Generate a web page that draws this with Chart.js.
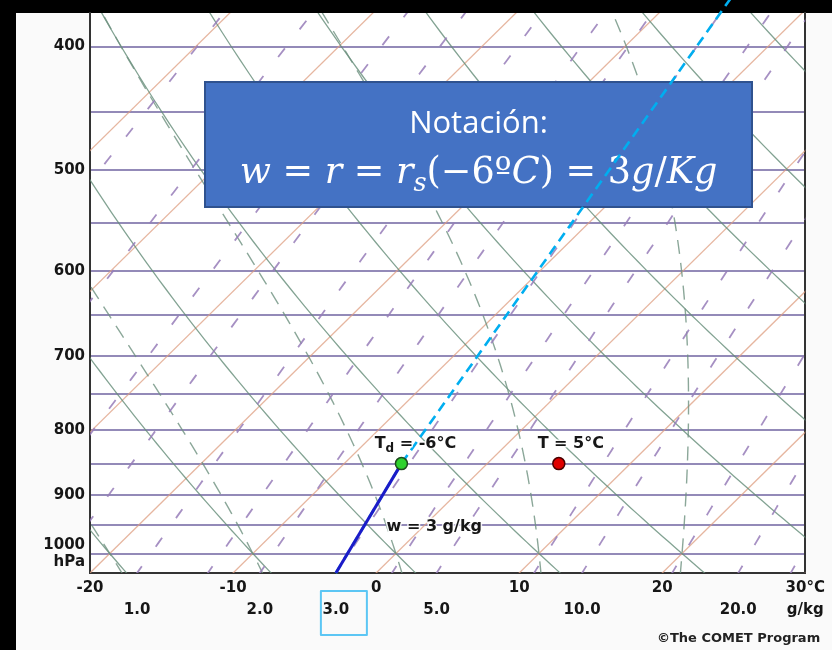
<!DOCTYPE html>
<html>
<head>
<meta charset="utf-8">
<script src="https://cdn.jsdelivr.net/npm/chart.js@4/dist/chart.umd.min.js"></script>
<style>
  html, body { margin: 0; padding: 0; background: #000; overflow: hidden; }
  canvas { display: block; }
</style>
</head>
<body>
<canvas id="skewt" width="832" height="650"></canvas>
<script>
// ---- diagram values ----
const isobars = [400, 450, 500, 550, 600, 650, 700, 750, 800, 850, 900, 950, 1000];   // hPa
const pressureLabels = [400, 500, 600, 700, 800, 900, 1000];
const temperatureTicks = [-20, -10, 0, 10, 20, 30];                                     // °C at the base
const mixingRatioTicks = [1, 2, 3, 5, 10, 20];                                          // g/kg at the base
const isotherms = [-60, -50, -40, -30, -20, -10, 0, 10, 20, 30];                        // °C
const dryAdiabats = [-20, -10, 0, 10, 20, 30, 40, 50, 60, 70, 80];                      // θ, °C
const moistAdiabats = [-20, -10, 0, 10, 20, 30];                                        // θw, °C
const mixingRatioLines = [0.1, 0.2, 0.4, 0.6, 1, 1.5, 2, 3, 4, 5, 8, 10, 15, 20, 25];   // g/kg

// the air parcel at 850 hPa
const parcelPressure = 850;
const parcelTemp = 5;
const parcelDewpoint = -6;
const parcelMixingRatio = 3;
const guideTopPressure = 367;

// ---- diagram geometry (skew-T / log-p) ----
const P_BOTTOM = 1035.8, P_TOP = 376.5;
const SKEW = 39.3;          // °C of horizontal shift per e-fold of pressure
const FONT = '"DejaVu Sans", sans-serif';

const sampleLevels = [];
for (let p = 1040; p >= 360; p -= 10) sampleLevels.push(p);

function skewX(tC, p) { return tC + SKEW * Math.log(P_BOTTOM / p); }
function satVapour(tC) { return 6.112 * Math.exp(17.67 * tC / (tC + 243.5)); }
function dewpointForMixing(w, p) {
  const e = w * p / (622 + w);
  const x = Math.log(e / 6.112);
  return 243.5 * x / (17.67 - x);
}
function dryAdiabatPath(thetaC) {
  const th = thetaC + 273.15;
  return sampleLevels.map(p => ({ x: skewX(th * Math.pow(p / 1000, 0.2857) - 273.15, p), y: p }));
}
function mixingPath(w) {
  return sampleLevels.map(p => ({ x: skewX(dewpointForMixing(w, p), p), y: p }));
}
function isothermPath(tC) {
  return [{ x: skewX(tC, 1040), y: 1040 }, { x: skewX(tC, 360), y: 360 }];
}
// pseudo-adiabatic lapse rate dT/dp (K/hPa)
function moistLapse(p, tK) {
  const es = satVapour(tK - 273.15);
  const rs = 0.622 * es / (p - es);
  const Lv = 2.501e6, Rd = 287.04, Cp = 1005.7;
  return (Rd * tK + Lv * rs) / (Cp + Lv * Lv * rs * 0.622 / (Rd * tK * tK)) / p;
}
function rk4(p, t, h) {
  const k1 = moistLapse(p, t);
  const k2 = moistLapse(p + h / 2, t + h * k1 / 2);
  const k3 = moistLapse(p + h / 2, t + h * k2 / 2);
  const k4 = moistLapse(p + h, t + h * k3);
  return t + h * (k1 + 2 * k2 + 2 * k3 + k4) / 6;
}
function moistAdiabatPath(thetaWC) {
  const temps = { 1000: thetaWC + 273.15 };
  let p = 1000, t = thetaWC + 273.15;
  while (p < 1040) { t = rk4(p, t, 5); p += 5; temps[p] = t; }
  p = 1000; t = thetaWC + 273.15;
  while (p > 360) { t = rk4(p, t, -5); p -= 5; temps[p] = t; }
  return sampleLevels.map(lv => ({ x: skewX(temps[lv] - 273.15, lv), y: lv }));
}

// ---- datasets ----
const datasets = [];
function line(data, style, order) {
  datasets.push(Object.assign({
    data, showLine: true, pointRadius: 0, fill: false, tension: 0,
    xAxisID: 'x', yAxisID: 'y', order
  }, style));
}

// background reference lines (drawn first)
isotherms.forEach(t => line(isothermPath(t), { borderColor: 'rgba(222,158,128,0.75)', borderWidth: 1.3 }, 20));
dryAdiabats.forEach(t => line(dryAdiabatPath(t), { borderColor: 'rgba(100,140,120,0.8)', borderWidth: 1.3 }, 19));
moistAdiabats.forEach(t => line(moistAdiabatPath(t), { borderColor: 'rgba(110,145,128,0.8)', borderWidth: 1.4, borderDash: [14, 9] }, 18));
mixingRatioLines.forEach(w => line(mixingPath(w), { borderColor: 'rgba(150,125,185,0.85)', borderWidth: 1.8, borderDash: [11, 24] }, 17));

// the parcel's mixing-ratio guide
const baseDew = { x: dewpointForMixing(parcelMixingRatio, P_BOTTOM), y: P_BOTTOM };
const dewPoint = { x: skewX(parcelDewpoint, parcelPressure), y: parcelPressure };
const guideTop = { x: skewX(dewpointForMixing(parcelMixingRatio, guideTopPressure), guideTopPressure), y: guideTopPressure };

line([baseDew, dewPoint, guideTop], { role: 'guide', borderColor: '#00aef0', borderWidth: 2.6, borderDash: [10, 6], clip: false }, 3);
line([baseDew, dewPoint], { borderColor: '#1b1bc8', borderWidth: 3 }, 2);

datasets.push({
  data: [dewPoint], showLine: false, xAxisID: 'x', yAxisID: 'y', order: 1,
  pointRadius: 6, pointBackgroundColor: '#2ed12e', pointBorderColor: '#1d4a1d', pointBorderWidth: 1.5
});
datasets.push({
  data: [{ x: skewX(parcelTemp, parcelPressure), y: parcelPressure }], showLine: false,
  xAxisID: 'x', yAxisID: 'y', order: 0,
  pointRadius: 6, pointBackgroundColor: '#e00000', pointBorderColor: '#4a0000', pointBorderWidth: 1.5
});

// ---- overlays ----
function drawNoteBox(ctx) {
  ctx.save();
  ctx.fillStyle = '#4472C4';
  ctx.fillRect(205, 82, 547, 125);
  ctx.strokeStyle = '#2F528F';
  ctx.lineWidth = 2;
  ctx.strokeRect(205, 82, 547, 125);
  ctx.fillStyle = '#ffffff';
  ctx.textAlign = 'center';
  ctx.textBaseline = 'alphabetic';
  ctx.font = '31px "Open Sans", sans-serif';
  ctx.fillText('Notación:', 478.5, 133);

  // w = r = r_s(−6ºC) = 3g/Kg
  const pieces = [
    ['w', 'i'], [' = ', 'n'], ['r', 'i'], [' = ', 'n'], ['r', 'i'], ['s', 'sub'],
    ['(−6º', 'n'], ['C', 'i'], [') = 3', 'n'], ['g', 'i'], ['/', 'n'], ['K', 'i'], ['g', 'i']
  ];
  const fontFor = (kind, s) => kind === 'n' ? `${s}px "DejaVu Serif", serif`
    : kind === 'i' ? `italic ${s}px "DejaVu Serif", serif`
    : `italic ${s * 0.7}px "DejaVu Serif", serif`;
  const measure = s => pieces.reduce((acc, [txt, k]) => { ctx.font = fontFor(k, s); return acc + ctx.measureText(txt).width; }, 0);
  let size = 32;
  size = size * 478 / measure(size);
  let x = 478.5 - measure(size) / 2;
  ctx.textAlign = 'left';
  pieces.forEach(([txt, k]) => {
    ctx.font = fontFor(k, size);
    ctx.fillText(txt, x, k === 'sub' ? 183 + size * 0.22 : 183);
    x += ctx.measureText(txt).width;
  });
  ctx.restore();
}

function haloText(ctx, txt, x, y) {
  ctx.strokeText(txt, x, y);
  ctx.fillText(txt, x, y);
}

const overlayPlugin = {
  id: 'overlay',
  beforeDraw(chart) {
    const { ctx, chartArea: a } = chart;
    ctx.save();
    ctx.fillStyle = '#000';
    ctx.fillRect(0, 0, chart.width, chart.height);
    ctx.fillStyle = '#fafafa';
    ctx.fillRect(16, 13, chart.width - 16, chart.height - 13);
    ctx.fillStyle = '#ffffff';
    ctx.fillRect(a.left, a.top, a.right - a.left, a.bottom - a.top);
    ctx.restore();
  },
  beforeDatasetDraw(chart, args) {
    if (chart.data.datasets[args.index].role === 'guide') drawNoteBox(chart.ctx);
  },
  afterDraw(chart) {
    const { ctx } = chart;
    const xs = chart.scales.x, ys = chart.scales.y, x2 = chart.scales.x2;
    ctx.save();
    ctx.fillStyle = '#161616';
    ctx.strokeStyle = 'rgba(255,255,255,0.85)';
    ctx.lineWidth = 3;
    ctx.lineJoin = 'round';
    ctx.textBaseline = 'middle';

    // dewpoint label with subscript
    const dx = xs.getPixelForValue(dewPoint.x), dy = ys.getPixelForValue(parcelPressure);
    ctx.font = `bold 16px ${FONT}`;
    const wT = ctx.measureText('T').width;
    const rest = ' = -6°C';
    const wRest = ctx.measureText(rest).width;
    ctx.font = `bold 12px ${FONT}`;
    const wD = ctx.measureText('d').width;
    let lx = dx + 14 - (wT + wD + wRest) / 2;
    const ly = dy - 20;
    ctx.textAlign = 'left';
    ctx.font = `bold 16px ${FONT}`;
    haloText(ctx, 'T', lx, ly);
    ctx.font = `bold 12px ${FONT}`;
    haloText(ctx, 'd', lx + wT, ly + 5);
    ctx.font = `bold 16px ${FONT}`;
    haloText(ctx, rest, lx + wT + wD, ly);

    // temperature label
    const tx = xs.getPixelForValue(skewX(parcelTemp, parcelPressure));
    ctx.textAlign = 'center';
    haloText(ctx, 'T = 5°C', tx + 12, ly);

    // mixing ratio label beside the line
    const p950 = 950;
    const f = Math.log(P_BOTTOM / p950) / Math.log(P_BOTTOM / parcelPressure);
    const lineX = xs.getPixelForValue(baseDew.x + f * (dewPoint.x - baseDew.x));
    ctx.textAlign = 'left';
    haloText(ctx, 'w = 3 g/kg', lineX + 22, ys.getPixelForValue(p950) + 2);

    // highlight around the 3.0 g/kg base label
    const hx = x2.getPixelForValue(baseDew.x);
    ctx.strokeStyle = '#5cc6f4';
    ctx.lineWidth = 2;
    ctx.strokeRect(hx - 15, 591, 46, 44);

    ctx.fillStyle = '#222';
    ctx.font = `bold 13px ${FONT}`;
    ctx.textAlign = 'left';
    ctx.fillText('©The COMET Program', 657, 639);
    ctx.restore();
  }
};

// ---- chart ----
const tickFont = { family: FONT, size: 15, weight: 'bold', lineHeight: 1.1 };
const mixTickValues = mixingRatioTicks.map(w => dewpointForMixing(w, P_BOTTOM)).concat([30]);
const mixTickLabels = mixingRatioTicks.map(w => w.toFixed(1)).concat(['g/kg']);

new Chart(document.getElementById('skewt'), {
  type: 'scatter',
  data: { datasets },
  plugins: [overlayPlugin],
  options: {
    responsive: false,
    animation: false,
    devicePixelRatio: 1,
    layout: { padding: { left: 0, top: 13, right: 24, bottom: 33 } },
    plugins: { legend: { display: false }, tooltip: { enabled: false } },
    scales: {
      x: {
        type: 'linear', position: 'bottom', min: -20, max: 30, bounds: 'data', weight: 0,
        afterBuildTicks: s => { s.ticks = temperatureTicks.map(v => ({ value: v })); },
        afterFit: s => { s.height = 22; },
        grid: { display: false, drawTicks: false },
        border: { display: true, color: '#333', width: 2 },
        ticks: {
          autoSkip: false, maxRotation: 0, padding: 7, color: '#161616', font: tickFont,
          callback: v => (v === 30 ? '30°C' : String(v))
        }
      },
      x2: {
        type: 'linear', position: 'bottom', min: -20, max: 30, bounds: 'data', weight: 1,
        afterBuildTicks: s => { s.ticks = mixTickValues.map(v => ({ value: v })); },
        afterFit: s => { s.height = 22; },
        grid: { display: false, drawTicks: false },
        border: { display: false },
        ticks: {
          autoSkip: false, maxRotation: 0, padding: 7, color: '#161616', font: tickFont,
          callback: (v, i) => mixTickLabels[i]
        }
      },
      y: {
        type: 'logarithmic', position: 'left', reverse: true, min: P_TOP, max: P_BOTTOM, bounds: 'data',
        afterBuildTicks: s => { s.ticks = isobars.slice().reverse().map(v => ({ value: v })); },
        afterFit: s => { s.width = 90; s.paddingTop = 0; s.paddingBottom = 0; },
        grid: { color: 'rgba(128,118,172,0.85)', lineWidth: 2, drawTicks: false },
        border: { display: true, color: '#333', width: 2 },
        ticks: {
          autoSkip: false, padding: 5, color: '#161616', font: tickFont,
          callback: v => (v === 1000 ? ['1000', 'hPa'] : (pressureLabels.includes(v) ? String(v) : ''))
        }
      },
      y2: {
        type: 'logarithmic', position: 'right', reverse: true, min: P_TOP, max: P_BOTTOM, bounds: 'data',
        afterFit: s => { s.width = 0; s.paddingTop = 0; s.paddingBottom = 0; },
        grid: { display: false, drawTicks: false },
        border: { display: true, color: '#333', width: 2 },
        ticks: { display: false }
      }
    }
  }
});
</script>
</body>
</html>
